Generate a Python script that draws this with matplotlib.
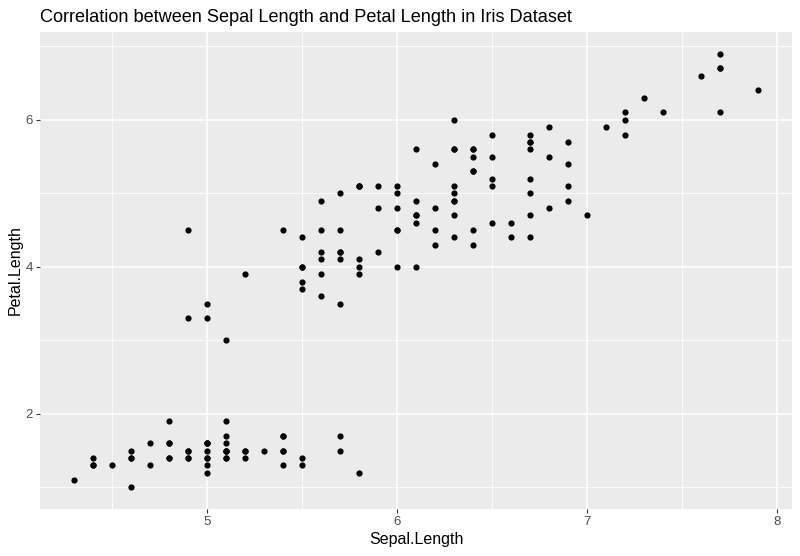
import matplotlib
matplotlib.use("Agg")
import matplotlib.pyplot as plt

# iris: Sepal.Length and Petal.Length
sepal_length = [
    5.1, 4.9, 4.7, 4.6, 5.0, 5.4, 4.6, 5.0, 4.4, 4.9, 5.4, 4.8, 4.8, 4.3, 5.8, 5.7, 5.4, 5.1, 5.7, 5.1,
    5.4, 5.1, 4.6, 5.1, 4.8, 5.0, 5.0, 5.2, 5.2, 4.7, 4.8, 5.4, 5.2, 5.5, 4.9, 5.0, 5.5, 4.9, 4.4, 5.1,
    5.0, 4.5, 4.4, 5.0, 5.1, 4.8, 5.1, 4.6, 5.3, 5.0,
    7.0, 6.4, 6.9, 5.5, 6.5, 5.7, 6.3, 4.9, 6.6, 5.2, 5.0, 5.9, 6.0, 6.1, 5.6, 6.7, 5.6, 5.8, 6.2, 5.6,
    5.9, 6.1, 6.3, 6.1, 6.4, 6.6, 6.8, 6.7, 6.0, 5.7, 5.5, 5.5, 5.8, 6.0, 5.4, 6.0, 6.7, 6.3, 5.6, 5.5,
    5.5, 6.1, 5.8, 5.0, 5.6, 5.7, 5.7, 6.2, 5.1, 5.7,
    6.3, 5.8, 7.1, 6.3, 6.5, 7.6, 4.9, 7.3, 6.7, 7.2, 6.5, 6.4, 6.8, 5.7, 5.8, 6.4, 6.5, 7.7, 7.7, 6.0,
    6.9, 5.6, 7.7, 6.3, 6.7, 7.2, 6.2, 6.1, 6.4, 7.2, 7.4, 7.9, 6.4, 6.3, 6.1, 7.7, 6.3, 6.4, 6.0, 6.9,
    6.7, 6.9, 5.8, 6.8, 6.7, 6.7, 6.3, 6.5, 6.2, 5.9,
]
petal_length = [
    1.4, 1.4, 1.3, 1.5, 1.4, 1.7, 1.4, 1.5, 1.4, 1.5, 1.5, 1.6, 1.4, 1.1, 1.2, 1.5, 1.3, 1.4, 1.7, 1.5,
    1.7, 1.5, 1.0, 1.7, 1.9, 1.6, 1.6, 1.5, 1.4, 1.6, 1.6, 1.5, 1.5, 1.4, 1.5, 1.2, 1.3, 1.4, 1.3, 1.5,
    1.3, 1.3, 1.3, 1.6, 1.9, 1.4, 1.6, 1.4, 1.5, 1.4,
    4.7, 4.5, 4.9, 4.0, 4.6, 4.5, 4.7, 3.3, 4.6, 3.9, 3.5, 4.2, 4.0, 4.7, 3.6, 4.4, 4.5, 4.1, 4.5, 3.9,
    4.8, 4.0, 4.9, 4.7, 4.3, 4.4, 4.8, 5.0, 4.5, 3.5, 3.8, 3.7, 3.9, 5.1, 4.5, 4.5, 4.7, 4.4, 4.1, 4.0,
    4.4, 4.6, 4.0, 3.3, 4.2, 4.2, 4.2, 4.3, 3.0, 4.1,
    6.0, 5.1, 5.9, 5.6, 5.8, 6.6, 4.5, 6.3, 5.8, 6.1, 5.1, 5.3, 5.5, 5.0, 5.1, 5.3, 5.5, 6.7, 6.9, 5.0,
    5.7, 4.9, 6.7, 4.9, 5.7, 6.0, 4.8, 4.9, 5.6, 5.8, 6.1, 6.4, 5.6, 5.1, 5.6, 6.1, 5.6, 5.5, 4.8, 5.4,
    5.6, 5.1, 5.1, 5.9, 5.7, 5.2, 5.0, 5.2, 5.4, 5.1,
]
x_ticks = [5, 6, 7, 8]
y_ticks = [2, 4, 6]

plt.rcParams['font.family'] = ['Liberation Sans', 'DejaVu Sans']

fig = plt.figure(figsize=(8, 5.56), dpi=100)
ax = fig.add_axes([0.05, 0.0845, 0.94, 0.858])
ax.set_facecolor('#EBEBEB')

ax.scatter(sepal_length, petal_length, s=20, color='black', linewidths=0, zorder=3)

# ggplot-like limits (5% expansion)
xmin, xmax = min(sepal_length), max(sepal_length)
ymin, ymax = min(petal_length), max(petal_length)
ax.set_xlim(xmin - 0.05 * (xmax - xmin), xmax + 0.05 * (xmax - xmin))
ax.set_ylim(ymin - 0.05 * (ymax - ymin), ymax + 0.05 * (ymax - ymin))

ax.set_xticks(x_ticks)
ax.set_yticks(y_ticks)
ax.set_xticks([4.5, 5.5, 6.5, 7.5], minor=True)
ax.set_yticks([1, 3, 5, 7], minor=True)
ax.grid(which='major', color='white', linewidth=1.1)
ax.grid(which='minor', color='white', linewidth=0.55)
ax.set_axisbelow(True)
for s in ax.spines.values():
    s.set_visible(False)
ax.tick_params(which='major', length=3, width=0.8, color='#333333',
               labelsize=9.5, labelcolor='#4D4D4D', pad=2)
ax.tick_params(which='minor', length=0)

ax.set_xlabel('Sepal.Length', fontsize=11.5, labelpad=3)
ax.set_ylabel('Petal.Length', fontsize=11.5, labelpad=2)
ax.set_title('Correlation between Sepal Length and Petal Length in Iris Dataset',
             fontsize=13.1, loc='left', pad=7)

fig.savefig('out.png', dpi=100)
